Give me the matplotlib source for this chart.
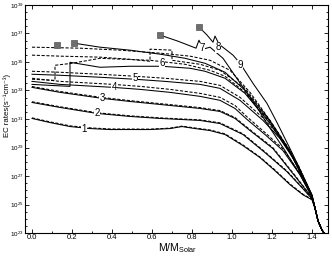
import numpy as np
import matplotlib
matplotlib.use('Agg')
import matplotlib.pyplot as plt
from matplotlib.ticker import FixedLocator, FuncFormatter, MultipleLocator

plt.rcParams['font.family'] = ['Liberation Sans', 'DejaVu Sans']
plt.rcParams['mathtext.fontset'] = 'custom'
plt.rcParams['mathtext.rm'] = 'Liberation Sans'
plt.rcParams['mathtext.it'] = 'Liberation Sans'

# x = M/M_solar, y = log10(EC rate)
tail_x = [1.415, 1.43, 1.45, 1.47]
tail_y = [24.75, 23.85, 23.2, 22.8]

x1 = [0, 0.09, 0.19, 0.29, 0.39, 0.59, 0.69, 0.75, 0.815, 0.89, 0.965, 1.055, 1.14, 1.215, 1.29, 1.355, 1.40]
s1 = [31.04, 30.75, 30.47, 30.33, 30.26, 30.26, 30.33, 30.47, 30.33, 30.19, 29.91, 29.13, 28.29, 27.37, 26.39, 25.68, 25.33]
d1 = [31.08, 30.80, 30.52, 30.38, 30.30, 30.29, 30.36, 30.50, 30.37, 30.23, 29.96, 29.18, 28.33, 27.42, 26.44, 25.72, 25.36]

x2 = [0, 0.14, 0.325, 0.49, 0.64, 0.84, 0.94, 1.055, 1.165, 1.275, 1.355, 1.40]
s2 = [32.16, 31.81, 31.39, 31.18, 31.04, 30.90, 30.68, 29.91, 28.64, 27.30, 26.10, 25.40]
d2 = [32.21, 31.86, 31.44, 31.22, 31.08, 30.94, 30.73, 29.96, 28.69, 27.35, 26.14, 25.42]

x3 = [0, 0.14, 0.35, 0.49, 0.64, 0.84, 0.94, 1.015, 1.09, 1.205, 1.325, 1.40]
s3 = [33.22, 32.87, 32.45, 32.23, 32.02, 31.74, 31.53, 31.04, 30.19, 28.92, 26.81, 25.47]
d3 = [33.28, 32.93, 32.51, 32.29, 32.08, 31.80, 31.59, 31.10, 30.25, 28.98, 26.86, 25.49]

x4 = [0, 0.14, 0.405, 0.54, 0.69, 0.84, 0.94, 1.015, 1.075, 1.165, 1.255, 1.34, 1.40]
s4 = [33.64, 33.43, 33.22, 33.08, 32.87, 32.59, 32.31, 31.74, 30.97, 29.91, 28.78, 27.09, 25.54]
d4 = [33.86, 33.64, 33.43, 33.29, 33.08, 32.80, 32.52, 31.95, 31.15, 30.05, 28.90, 27.16, 25.56]

x5 = [0, 0.14, 0.34, 0.515, 0.665, 0.84, 0.94, 1.04, 1.155, 1.24, 1.33, 1.40]
s5 = [34.14, 34.07, 33.93, 33.79, 33.64, 33.43, 33.15, 32.31, 30.90, 29.63, 27.72, 25.61]
d5 = [34.35, 34.28, 34.14, 34.00, 33.86, 33.64, 33.36, 32.52, 31.08, 29.77, 27.80, 25.63]

x6s = [0, 0.09, 0.19, 0.19, 0.34, 0.49, 0.65, 0.79, 0.865, 0.965, 1.065, 1.19, 1.29, 1.40]
s6 = [33.43, 33.36, 33.29, 34.98, 34.63, 34.70, 34.70, 34.56, 34.35, 33.86, 32.80, 30.68, 28.64, 25.61]
x6d = [0, 0.115, 0.115, 0.20, 0.34, 0.59, 0.765, 0.89, 0.965, 1.065, 1.19, 1.29, 1.40]
d6 = [33.79, 33.71, 34.77, 34.91, 35.26, 35.12, 34.84, 34.42, 34.00, 32.87, 30.75, 28.71, 25.61]

x7s = [0.21, 0.34, 0.49, 0.64, 0.765, 0.865, 0.965, 1.065, 1.19, 1.29, 1.40]
s7 = [36.32, 36.04, 35.83, 35.55, 35.26, 34.91, 34.28, 33.01, 30.83, 28.71, 25.61]
x7d = [0, 0.14, 0.34, 0.49, 0.59, 0.59, 0.70, 0.70, 0.84, 0.94, 1.065, 1.19, 1.29, 1.40]
d7 = [35.48, 35.41, 35.34, 35.19, 35.05, 35.90, 35.83, 35.12, 34.84, 34.42, 33.15, 30.90, 28.78, 25.61]

x8s = [0.64, 0.73, 0.82, 0.835, 0.855, 0.89, 0.955, 1.055, 1.125, 1.175, 1.265, 1.34, 1.40]
s8 = [36.89, 36.46, 35.97, 36.53, 35.90, 36.04, 35.26, 33.22, 31.81, 30.68, 28.78, 27.09, 25.54]
x8d = [0, 0.24, 0.44, 0.64, 0.79, 0.89, 0.99, 1.09, 1.19, 1.29, 1.40]
d8 = [36.04, 35.97, 35.83, 35.62, 35.41, 35.12, 34.42, 32.87, 30.90, 28.78, 25.61]

x9s = [0.835, 0.875, 0.905, 0.915, 0.935, 1.005, 1.04, 1.105, 1.175, 1.225, 1.30, 1.36, 1.40]
s9 = [37.45, 36.89, 36.39, 36.82, 36.25, 35.48, 34.91, 33.50, 32.09, 30.75, 28.64, 26.88, 25.68]

sq_x = [0.125, 0.21, 0.64, 0.835]
sq_y = [36.18, 36.32, 36.89, 37.45]

lab_text = ['1', '2', '3', '4', '5', '6', '7', '8', '9']
lab_x = [0.26, 0.325, 0.35, 0.41, 0.515, 0.65, 0.85, 0.93, 1.04]
lab_y = [30.33, 31.39, 32.45, 33.22, 33.86, 34.91, 35.97, 36.04, 34.77]

fig = plt.figure(figsize=(3.32, 2.56), dpi=100)
ax = fig.add_axes([0.0753, 0.0898, 0.9127, 0.8907])

lw = 0.75
def draw(xs, ys, dashed=False):
    xx = list(xs) + tail_x
    yy = list(ys) + tail_y
    if dashed:
        ax.plot(xx, 10.0 ** np.array(yy), color='black', lw=lw, ls=(0, (3, 1.6)), zorder=2)
    else:
        ax.plot(xx, 10.0 ** np.array(yy), color='black', lw=lw, zorder=3)

for xs, s, d in [(x1, s1, d1), (x2, s2, d2), (x3, s3, d3), (x4, s4, d4), (x5, s5, d5)]:
    draw(xs, s)
    draw(xs, d, dashed=True)
draw(x6s, s6)
draw(x6d, d6, dashed=True)
draw(x7s, s7)
draw(x7d, d7, dashed=True)
draw(x8s, s8)
draw(x8d, d8, dashed=True)
draw(x9s, s9)

ax.plot(sq_x, 10.0 ** np.array(sq_y), ls='none', marker='s', ms=4.5,
        mfc='#6e6e6e', mec='#555555', mew=0.5, zorder=5)

for t, lx, ly in zip(lab_text, lab_x, lab_y):
    ax.text(lx, 10.0 ** ly, t, fontsize=7, ha='center', va='center', zorder=6,
            bbox=dict(facecolor='white', edgecolor='none', pad=0.3))

ax.set_yscale('log')
ax.set_xlim(-0.035, 1.48)
ax.set_ylim(1e23, 1e39)

ax.xaxis.set_major_locator(MultipleLocator(0.2))
ax.xaxis.set_minor_locator(MultipleLocator(0.1))
ax.xaxis.set_major_formatter(FuncFormatter(lambda v, p: f'{v:.1f}'))

majors = list(range(23, 40, 2))
ax.yaxis.set_major_locator(FixedLocator([10.0 ** k for k in majors]))
ax.yaxis.set_minor_locator(FixedLocator([10.0 ** k for k in np.arange(23, 39.01, 0.5) if k not in majors]))
ax.yaxis.set_major_formatter(FuncFormatter(lambda v, p: '$10^{%d}$' % int(round(np.log10(v)))))
ax.yaxis.set_minor_formatter(FuncFormatter(lambda v, p: ''))

ax.tick_params(which='both', direction='in', top=True, right=True, width=0.6, pad=1.0)
ax.tick_params(axis='x', labelsize=5.5)
ax.tick_params(axis='y', labelsize=4.5)
ax.tick_params(which='major', length=3)
ax.tick_params(which='minor', length=1.5)
for sp in ax.spines.values():
    sp.set_linewidth(0.8)

ax.set_ylabel('EC rates(s\u207b\u00b9cm\u207b\u00b3)', fontsize=5.6)
ax.yaxis.set_label_coords(-0.047, 0.56)
ax.set_xlabel('M/M$_{\\mathrm{Solar}}$', fontsize=7.5)
ax.xaxis.set_label_coords(0.505, -0.035)

fig.savefig('out.png', dpi=100)
